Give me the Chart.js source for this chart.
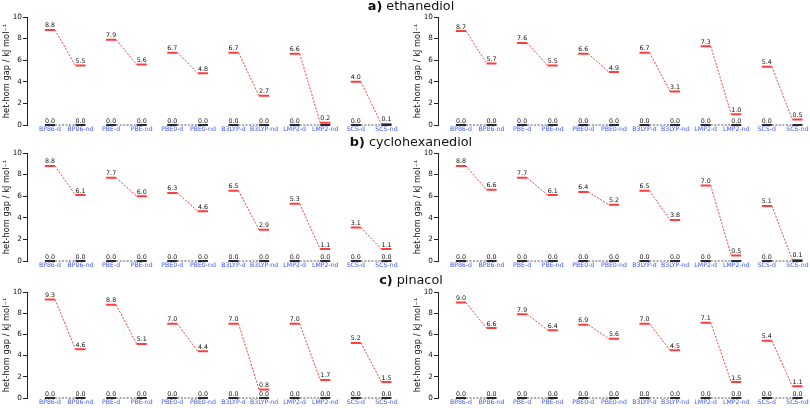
<!DOCTYPE html>
<html>
<head>
<meta charset="utf-8">
<script src="https://cdn.jsdelivr.net/npm/chart.js@4/dist/chart.umd.min.js"></script>
<style>
  html, body { margin: 0; padding: 0; background: #fff; overflow: hidden; width: 810px; height: 408px; }
  canvas { position: absolute; }
  .ttl { position: absolute; left: 0; width: 822px; text-align: center; font-family: "DejaVu Sans", sans-serif; font-size: 12.8px; color: #111; z-index: 5; line-height: 14px; }
  .ttl b { font-weight: bold; }
</style>
</head>
<body>
<div class="ttl" style="top:-1px"><b>a)</b> ethanediol</div>
<div class="ttl" style="top:135px"><b>b)</b> cyclohexanediol</div>
<div class="ttl" style="top:273px"><b>c)</b> pinacol</div>

<canvas id="aL" width="410" height="137" style="left:0;top:0"></canvas>
<canvas id="aR" width="410" height="137" style="left:411px;top:0"></canvas>
<canvas id="bL" width="410" height="136" style="left:0;top:137px"></canvas>
<canvas id="bR" width="410" height="136" style="left:411px;top:137px"></canvas>
<canvas id="cL" width="410" height="137" style="left:0;top:273px"></canvas>
<canvas id="cR" width="410" height="137" style="left:411px;top:273px"></canvas>

<script>
// methods and tick labels
const methods = ['BP86', 'PBE', 'PBE0', 'B3LYP', 'LMP2', 'SCS'];
const tickLabels = ['BP86-d', 'BP86-nd', 'PBE-d', 'PBE-nd', 'PBE0-d', 'PBE0-nd',
                    'B3LYP-d', 'B3LYP-nd', 'LMP2-d', 'LMP2-nd', 'SCS-d', 'SCS-nd'];
const yTicks = [0, 2, 4, 6, 8, 10];

// het-hom gaps (kJ/mol), d = dispersion, nd = no dispersion
const ethanediolL_d  = [8.8, 7.9, 6.7, 6.7, 6.6, 4.0];
const ethanediolL_nd = [5.5, 5.6, 4.8, 2.7, 0.2, 0.1];
const ethanediolR_d  = [8.7, 7.6, 6.6, 6.7, 7.3, 5.4];
const ethanediolR_nd = [5.7, 5.5, 4.9, 3.1, 1.0, 0.5];
const cyclohexL_d    = [8.8, 7.7, 6.3, 6.5, 5.3, 3.1];
const cyclohexL_nd   = [6.1, 6.0, 4.6, 2.9, 1.1, 1.1];
const cyclohexR_d    = [8.8, 7.7, 6.4, 6.5, 7.0, 5.1];
const cyclohexR_nd   = [6.6, 6.1, 5.2, 3.8, 0.5, 0.1];
const pinacolL_d     = [9.3, 8.8, 7.0, 7.0, 7.0, 5.2];
const pinacolL_nd    = [4.6, 5.1, 4.4, 0.8, 1.7, 1.5];
const pinacolR_d     = [9.0, 7.9, 6.9, 7.0, 7.1, 5.4];
const pinacolR_nd    = [6.6, 6.4, 5.6, 4.5, 1.5, 1.1];

// reference level (hom) is always zero
const zeroLevel = [0, 0, 0, 0, 0, 0];

const FONT = '"DejaVu Sans", sans-serif';
const RED = '#ff3d3d';
const DARK = '#2a2a2a';
const BLUE = '#3f55ee';
const HW = 0.165; // half width of a level bar, in x units

// interleave d / nd values into 12 positions
function interleave(d, nd) {
  const out = [];
  d.forEach((v, i) => { out.push(v); out.push(nd[i]); });
  return out;
}

function levelData(vals) {
  const pts = [];
  vals.forEach((v, i) => {
    pts.push({x: i - HW, y: v});
    pts.push({x: i + HW, y: v});
    pts.push({x: i, y: null});
  });
  return pts;
}

function connectorData(d, nd) {
  const pts = [];
  d.forEach((v, k) => {
    pts.push({x: 2 * k + HW, y: v});
    pts.push({x: 2 * k + 1 - HW, y: nd[k]});
    pts.push({x: 2 * k + 1, y: null});
  });
  return pts;
}

// draws the number above every level (zero label hidden when covered)
const levelLabels = {
  id: 'levelLabels',
  afterDatasetsDraw(chart, args, opts) {
    const ctx = chart.ctx;
    const xs = chart.scales.x, ys = chart.scales.y;
    ctx.save();
    ctx.font = '6.3px ' + FONT;
    ctx.fillStyle = '#111';
    ctx.textAlign = 'center';
    ctx.textBaseline = 'alphabetic';
    opts.red.forEach((v, i) => {
      const px = xs.getPixelForValue(i);
      if (v >= 0.75) {
        ctx.fillText('0.0', px, ys.getPixelForValue(0) - 2.5);
      }
      ctx.fillText(v.toFixed(1), px, ys.getPixelForValue(v) - 2.5);
    });
    ctx.restore();
  }
};

function makeChart(id, d, nd, padTop) {
  const red = interleave(d, nd);
  const zero = interleave(zeroLevel, zeroLevel);
  new Chart(document.getElementById(id), {
    type: 'line',
    data: {
      datasets: [
        { data: levelData(zero), borderColor: DARK, borderWidth: 2, clip: false },
        { data: levelData(red), borderColor: RED, borderWidth: 2, clip: false },
        { data: connectorData(zeroLevel, zeroLevel), borderColor: '#555', borderWidth: 1, borderDash: [2, 1.5], clip: false },
        { data: connectorData(d, nd), borderColor: RED, borderWidth: 1, borderDash: [2, 1.5], clip: false }
      ]
    },
    options: {
      responsive: false,
      devicePixelRatio: 1,
      animation: false,
      spanGaps: false,
      elements: { point: { radius: 0 }, line: { tension: 0 } },
      layout: { padding: { top: padTop, left: 0, right: 0, bottom: 0 } },
      plugins: {
        legend: { display: false },
        tooltip: { enabled: false },
        levelLabels: { red: red }
      },
      scales: {
        x: {
          type: 'linear',
          min: -0.75,
          max: 11.77,
          afterBuildTicks(s) { s.ticks = tickLabels.map((_, i) => ({value: i})); },
          afterFit(s) { s.height = 12; },
          ticks: {
            autoSkip: false,
            maxRotation: 0,
            padding: 1,
            color: BLUE,
            font: { family: FONT, size: 6.2 },
            callback: v => tickLabels[v]
          },
          grid: { display: false, drawTicks: false },
          border: { display: false }
        },
        y: {
          min: 0,
          max: 10,
          afterBuildTicks(s) { s.ticks = yTicks.map(v => ({value: v})); },
          afterFit(s) { s.width = 27; },
          ticks: { color: '#111', padding: 1, font: { family: FONT, size: 7.3 } },
          grid: { drawOnChartArea: false, tickLength: 4, color: '#222' },
          border: { color: '#222', width: 1 },
          title: {
            display: true,
            text: 'het-hom gap / kJ mol⁻¹',
            color: '#111',
            font: { family: FONT, size: 8.3 },
            padding: { top: 2, bottom: 0 }
          }
        }
      }
    },
    plugins: [levelLabels]
  });
}

makeChart('aL', ethanediolL_d, ethanediolL_nd, 17);
makeChart('aR', ethanediolR_d, ethanediolR_nd, 17);
makeChart('bL', cyclohexL_d, cyclohexL_nd, 16);
makeChart('bR', cyclohexR_d, cyclohexR_nd, 16);
makeChart('cL', pinacolL_d, pinacolL_nd, 19);
makeChart('cR', pinacolR_d, pinacolR_nd, 19);
</script>
</body>
</html>
